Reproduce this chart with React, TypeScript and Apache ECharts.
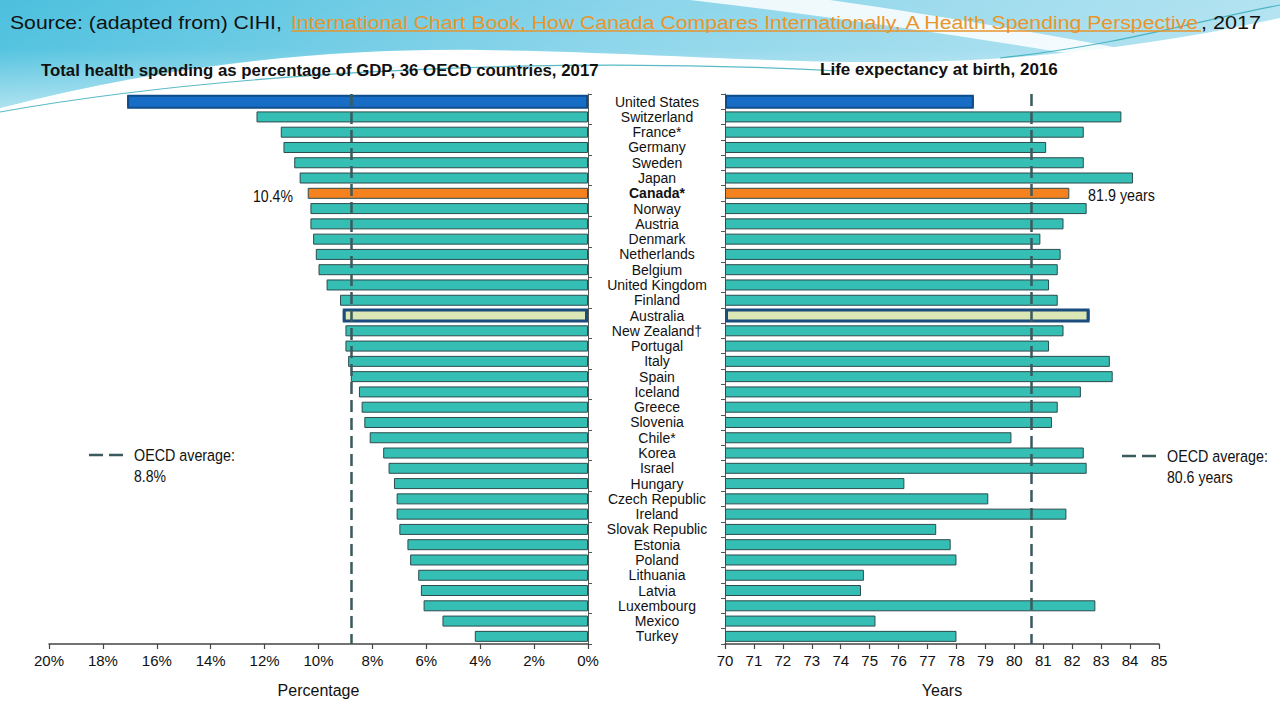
import React, { useEffect, useRef } from "react";
import * as echarts from "echarts";

// ---------------- Data ----------------
const countries = [
  "United States", "Switzerland", "France*", "Germany", "Sweden", "Japan",
  "Canada*", "Norway", "Austria", "Denmark", "Netherlands", "Belgium",
  "United Kingdom", "Finland", "Australia", "New Zealand†", "Portugal", "Italy",
  "Spain", "Iceland", "Greece", "Slovenia", "Chile*", "Korea",
  "Israel", "Hungary", "Czech Republic", "Ireland", "Slovak Republic", "Estonia",
  "Poland", "Lithuania", "Latvia", "Luxembourg", "Mexico", "Turkey",
];

// Total health spending as % of GDP, 2017
const healthSpending = [
  17.1, 12.3, 11.4, 11.3, 10.9, 10.7,
  10.4, 10.3, 10.3, 10.2, 10.1, 10.0,
  9.7, 9.2, 9.1, 9.0, 9.0, 8.9,
  8.8, 8.5, 8.4, 8.3, 8.1, 7.6,
  7.4, 7.2, 7.1, 7.1, 7.0, 6.7,
  6.6, 6.3, 6.2, 6.1, 5.4, 4.2,
];

// Life expectancy at birth, 2016
const lifeExpectancy = [
  78.6, 83.7, 82.4, 81.1, 82.4, 84.1,
  81.9, 82.5, 81.7, 80.9, 81.6, 81.5,
  81.2, 81.5, 82.6, 81.7, 81.2, 83.3,
  83.4, 82.3, 81.5, 81.3, 79.9, 82.4,
  82.5, 76.2, 79.1, 81.8, 77.3, 77.8,
  78.0, 74.8, 74.7, 82.8, 75.2, 78.0,
];

const oecdSpending = 8.8;
const oecdLife = 80.6;

const spendingTicks = { min: 0, max: 20, interval: 2 };
const lifeTicks = { min: 70, max: 85, interval: 1 };

const usName = "United States";
const canadaName = "Canada*";
const australiaName = "Australia";

const titleParts = [
  "Source: (adapted from) CIHI,",
  "International Chart Book, How Canada Compares Internationally, A Health Spending Perspective",
  ", 2017",
];
const leftTitle = "Total health spending as percentage of GDP, 36 OECD countries, 2017";
const rightTitle = "Life expectancy at birth, 2016";

// ---------------- Styles ----------------
const FONT = "'Liberation Sans', Arial, Helvetica, sans-serif";
const TEAL = "#35BFB4";
const BAR_BORDER = "#2C4B4D";
const US_FILL = "#176CC6";
const US_BORDER = "#0F4C8A";
const CA_FILL = "#F5821F";
const AU_FILL = "#DCE7B6";
const AU_BORDER = "#1B4C7E";
const DASH_COLOR = "#3B5A5C";
const AXIS_COLOR = "#555";
const LINK_COLOR = "#E8952B";

const BG_TOP =
  "M0 0 H1280 V18 C1170 42 1050 60 900 62 C760 63 640 52 480 50 C330 48 170 64 0 108 Z";
const BG_SWOOSH =
  "M690 0 H830 C960 18 1110 46 1280 78 V90 C1110 60 930 28 690 0 Z";

let registered = false;
function registerShapes() {
  if (registered) return;
  registered = true;
  echarts.graphic.registerShape("bgTop", echarts.graphic.extendPath(BG_TOP, {}));
  echarts.graphic.registerShape("bgSwoosh", echarts.graphic.extendPath(BG_SWOOSH, {}));
}

let measureCtx: CanvasRenderingContext2D | null = null;
function measure(text: string, font: string) {
  if (!measureCtx) measureCtx = document.createElement("canvas").getContext("2d");
  measureCtx!.font = font;
  return measureCtx!.measureText(text).width;
}

function fitText(
  text: string, x: number, y: number, width: number, size: number,
  fill = "#111", weight = "normal", family = FONT
) {
  const w = measure(text, `${weight} ${size}px ${family}`);
  return {
    type: "text",
    x, y,
    scaleX: w > 0 ? width / w : 1,
    z: 20,
    silent: true,
    style: {
      text, fill,
      fontSize: size, fontWeight: weight, fontFamily: family,
      align: "left", textAlign: "left",
      verticalAlign: "middle", textVerticalAlign: "middle",
    },
  };
}

function dashLegend(x1: number, x2: number, y: number) {
  return {
    type: "line", z: 20, silent: true,
    shape: { x1, y1: y, x2, y2: y },
    style: { stroke: DASH_COLOR, lineWidth: 2.5, lineDash: [14, 6] },
  };
}

function buildOption() {
  const usIdx = countries.indexOf(usName);
  const caIdx = countries.indexOf(canadaName);
  const auIdx = countries.indexOf(australiaName);

  const mainData = (vals: number[]) =>
    vals.map((v, i) =>
      i === caIdx ? { value: v, itemStyle: { color: CA_FILL } } : { value: v }
    );
  const hiData = (vals: number[]) =>
    vals.map((v, i) => {
      if (i === usIdx)
        return { value: v, itemStyle: { color: US_FILL, borderColor: US_BORDER, borderWidth: 2 } };
      if (i === auIdx)
        return { value: v, itemStyle: { color: AU_FILL, borderColor: AU_BORDER, borderWidth: 3 } };
      return "-";
    });

  const catAxisBase = {
    type: "category",
    data: countries,
    inverse: true,
    axisLine: { show: true, lineStyle: { color: AXIS_COLOR, width: 1 } },
    axisTick: { show: true, length: 4, lineStyle: { color: AXIS_COLOR } },
    splitLine: { show: false },
  };

  const valAxisBase = {
    type: "value",
    axisLine: { show: true, lineStyle: { color: "#444", width: 1.5 } },
    axisTick: { show: true, length: 5, lineStyle: { color: "#444", width: 1.2 } },
    splitLine: { show: false },
    nameLocation: "middle",
    nameGap: 38,
    nameTextStyle: { fontFamily: FONT, fontSize: 16, color: "#111" },
  };

  const markLine = (v: number) => ({
    silent: true,
    symbol: ["none", "none"],
    label: { show: false },
    lineStyle: { color: DASH_COLOR, width: 2.5, type: [12, 6] },
    data: [{ xAxis: v }],
  });

  const graphics: any[] = [
    { type: "rect", z: -10, silent: true, shape: { x: 0, y: 0, width: 1280, height: 720 }, style: { fill: "#FFFFFF" } },
    {
      type: "bgTop", x: 0, y: 0, z: -9, silent: true,
      style: {
        fill: {
          type: "linear", x: 0, y: 0, x2: 1, y2: 0,
          colorStops: [
            { offset: 0, color: "#4CC0DE" },
            { offset: 0.5, color: "#8BD5EA" },
            { offset: 1, color: "#B3E3F1" },
          ],
        },
      },
    },
    {
      type: "bgTop", x: 0, y: 0, z: -8.5, silent: true,
      style: {
        fill: {
          type: "linear", x: 0, y: 0, x2: 0, y2: 1,
          colorStops: [
            { offset: 0, color: "rgba(255,255,255,0)" },
            { offset: 0.45, color: "rgba(255,255,255,0.05)" },
            { offset: 1, color: "rgba(255,255,255,0.55)" },
          ],
        },
      },
    },
    { type: "bgSwoosh", x: 0, y: 0, z: -8, silent: true, style: { fill: "rgba(255,255,255,0.85)" } },
    {
      type: "bezierCurve", z: -7, silent: true,
      shape: { x1: 0, y1: 112, cpx1: 200, cpy1: 76, cpx2: 520, cpy2: 54, x2: 840, y2: 71 },
      style: { stroke: "#2FA9B8", lineWidth: 1.2, opacity: 0.8, fill: null },
    },
    {
      type: "bezierCurve", z: -7, silent: true,
      shape: { x1: 1000, y1: 58, cpx1: 1120, cpy1: 45, cpx2: 1200, cpy2: 20, x2: 1280, y2: 5 },
      style: { stroke: "#2FA9B8", lineWidth: 1.2, opacity: 0.8, fill: null },
    },
    // title
    fitText(titleParts[0], 10, 22, 272, 19),
    fitText(titleParts[1], 291, 22, 910, 19, LINK_COLOR),
    fitText(titleParts[2], 1201, 22, 60, 19),
    {
      type: "line", z: 20, silent: true,
      shape: { x1: 291, y1: 31, x2: 1201, y2: 31 },
      style: { stroke: LINK_COLOR, lineWidth: 1.3 },
    },
    // panel titles
    fitText(leftTitle, 41, 70, 558, 17, "#111", "bold"),
    fitText(rightTitle, 820, 70, 238, 17, "#111", "bold"),
    // value annotations
    fitText("10.4%", 253, 196, 40, 17),
    fitText("81.9 years", 1088, 195, 67, 17),
    // legends
    dashLegend(89, 124, 455),
    fitText("OECD average:", 134, 455, 101, 17),
    fitText("8.8%", 134, 476, 32, 17),
    dashLegend(1122, 1156, 456),
    fitText("OECD average:", 1167, 456, 101, 17),
    fitText("80.6 years", 1167, 477, 66, 17),
  ];

  return {
    animation: false,
    backgroundColor: "transparent",
    textStyle: { fontFamily: FONT },
    graphic: { elements: graphics },
    grid: [
      { left: 49, top: 94, width: 539, height: 550, outerBoundsMode: "none", containLabel: false },
      { left: 725, top: 94, width: 434, height: 550, outerBoundsMode: "none", containLabel: false },
    ],
    xAxis: [
      {
        ...valAxisBase,
        gridIndex: 0,
        inverse: true,
        min: spendingTicks.min,
        max: spendingTicks.max,
        interval: spendingTicks.interval,
        name: "Percentage",
        axisLabel: { formatter: "{value}%", fontFamily: FONT, fontSize: 15, color: "#111", margin: 9 },
      },
      {
        ...valAxisBase,
        gridIndex: 1,
        min: lifeTicks.min,
        max: lifeTicks.max,
        interval: lifeTicks.interval,
        startValue: lifeTicks.min,
        name: "Years",
        axisLabel: { fontFamily: FONT, fontSize: 15, color: "#111", margin: 9 },
      },
    ],
    yAxis: [
      { ...catAxisBase, gridIndex: 0, position: "right", axisLabel: { show: false } },
      { type: "category", data: countries, inverse: true, gridIndex: 0, show: false },
      {
        ...catAxisBase,
        gridIndex: 1,
        position: "left",
        axisLabel: {
          show: true,
          interval: 0,
          align: "center",
          margin: 68,
          fontFamily: FONT,
          fontSize: 14,
          color: "#111",
          formatter: (v: string) => (v === canadaName ? `{b|${v}}` : v),
          rich: { b: { fontFamily: FONT, fontSize: 14, fontWeight: "bold", color: "#111" } },
        },
      },
      { type: "category", data: countries, inverse: true, gridIndex: 1, show: false },
    ],
    series: [
      {
        type: "bar", name: "Health spending", xAxisIndex: 0, yAxisIndex: 0,
        data: mainData(healthSpending), barWidth: 11, z: 2, silent: true,
        itemStyle: { color: TEAL, borderColor: BAR_BORDER, borderWidth: 1 },
        markLine: markLine(oecdSpending),
      },
      {
        type: "bar", name: "Highlight spending", xAxisIndex: 0, yAxisIndex: 1,
        data: hiData(healthSpending), barWidth: 14, z: 4, silent: true,
      },
      {
        type: "bar", name: "Life expectancy", xAxisIndex: 1, yAxisIndex: 2,
        data: mainData(lifeExpectancy), barWidth: 11, z: 2, silent: true,
        itemStyle: { color: TEAL, borderColor: BAR_BORDER, borderWidth: 1 },
        markLine: markLine(oecdLife),
      },
      {
        type: "bar", name: "Highlight life", xAxisIndex: 1, yAxisIndex: 3,
        data: hiData(lifeExpectancy), barWidth: 14, z: 4, silent: true,
      },
    ],
  };
}

export default function App() {
  const ref = useRef<HTMLDivElement>(null);
  useEffect(() => {
    registerShapes();
    const chart = echarts.init(ref.current!, null, { renderer: "svg" });
    chart.setOption(buildOption() as any);
    return () => chart.dispose();
  }, []);
  return (
    <div
      ref={ref}
      style={{ position: "fixed", left: 0, top: 0, width: 1280, height: 720, background: "#fff" }}
    />
  );
}
